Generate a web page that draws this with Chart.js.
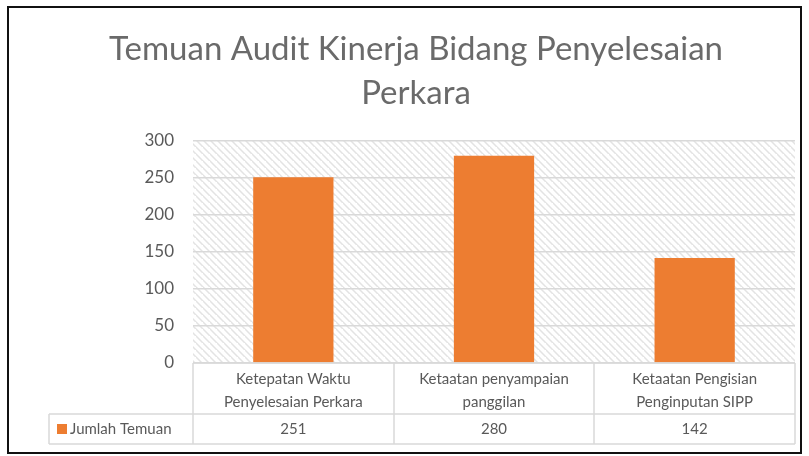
<!DOCTYPE html>
<html>
<head>
<meta charset="utf-8">
<script src="https://cdn.jsdelivr.net/npm/chart.js@4.4.1/dist/chart.umd.min.js"></script>
<style>
  html, body { margin: 0; padding: 0; background: #ffffff; }
  #wrap { width: 809px; height: 456px; position: relative; }
</style>
</head>
<body>
<div id="wrap"><canvas id="c" width="809" height="456"></canvas></div>
<script>
const titleLines = ["Temuan Audit Kinerja Bidang Penyelesaian", "Perkara"];
const categories = [
  ["Ketepatan Waktu", "Penyelesaian Perkara"],
  ["Ketaatan penyampaian", "panggilan"],
  ["Ketaatan Pengisian", "Penginputan SIPP"]
];
const seriesName = "Jumlah Temuan";
const seriesValues = [251, 280, 142];
const yMin = 0, yMax = 300, yStep = 50;

const FONT = "Lato, 'Open Sans', sans-serif";
const TEXT = "#595959";
const GRID = "#d9d9d9";
const BAR = "#ED7D31";

function makePattern() {
  const t = document.createElement("canvas");
  const s = 7;
  t.width = s; t.height = s;
  const g = t.getContext("2d");
  g.fillStyle = "#ffffff";
  g.fillRect(0, 0, s, s);
  g.strokeStyle = "#e3e3e3";
  g.lineWidth = 1.5;
  g.beginPath();
  g.moveTo(-1, -1); g.lineTo(s + 1, s + 1);
  g.moveTo(-s - 1, -1); g.lineTo(1, s + 1);
  g.moveTo(s - 1, -s - 1); g.lineTo(2 * s + 1, s + 1);
  g.stroke();
  return g.createPattern(t, "repeat");
}

const backPlugin = {
  id: "back",
  beforeDraw(chart) {
    const { ctx, chartArea: a } = chart;
    ctx.save();
    ctx.fillStyle = makePattern();
    ctx.fillRect(a.left, a.top, a.right - a.left, a.bottom - a.top);
    ctx.restore();
  }
};

const overlayPlugin = {
  id: "overlay",
  afterDraw(chart) {
    const { ctx, chartArea: a } = chart;
    const xs = chart.scales.x;
    const n = categories.length;
    const colW = (a.right - a.left) / n;
    const rowTop = a.bottom;
    const rowMid = rowTop + 51;
    const rowBot = rowMid + 30;
    const legLeft = 49;

    ctx.save();
    ctx.strokeStyle = GRID;
    ctx.lineWidth = 1.5;
    ctx.beginPath();
    ctx.moveTo(a.left, rowTop); ctx.lineTo(a.right, rowTop);
    ctx.moveTo(legLeft, rowMid); ctx.lineTo(a.right, rowMid);
    ctx.moveTo(legLeft, rowBot); ctx.lineTo(a.right, rowBot);
    ctx.moveTo(legLeft, rowMid); ctx.lineTo(legLeft, rowBot);
    for (let i = 0; i <= n; i++) {
      const x = i === n ? a.right : (i === 0 ? a.left : Math.round(xs.getPixelForValue(i) - colW / 2));
      ctx.moveTo(x, rowTop);
      ctx.lineTo(x, rowBot);
    }
    ctx.stroke();

    ctx.fillStyle = TEXT;
    ctx.font = "15px " + FONT;
    ctx.textAlign = "center";
    ctx.textBaseline = "middle";
    categories.forEach((lines, i) => {
      const cx = xs.getPixelForValue(i);
      lines.forEach((ln, j) => {
        ctx.fillText(ln, cx, rowTop + 16 + j * 23);
      });
      ctx.fillText(String(seriesValues[i]), cx, rowMid + 15.5);
    });

    ctx.fillStyle = BAR;
    ctx.fillRect(57, rowMid + 10, 10, 10);
    ctx.fillStyle = TEXT;
    ctx.textAlign = "left";
    ctx.fillText(seriesName, 70, rowMid + 15.5);

    ctx.font = "33px " + FONT;
    ctx.textAlign = "center";
    ctx.textBaseline = "alphabetic";
    ctx.fillStyle = "#6a6a6a";
    ctx.fillText(titleLines[0], 416, 60);
    ctx.fillText(titleLines[1], 416, 104);

    ctx.strokeStyle = "#111111";
    ctx.lineWidth = 2;
    ctx.strokeRect(8, 7, 793, 446);
    ctx.restore();
  }
};

new Chart(document.getElementById("c"), {
  type: "bar",
  data: {
    labels: categories,
    datasets: [{
      label: seriesName,
      data: seriesValues,
      backgroundColor: BAR,
      borderWidth: 0,
      barPercentage: 0.4,
      categoryPercentage: 1.0
    }]
  },
  options: {
    responsive: false,
    animation: false,
    layout: { padding: { left: 0, top: 141, right: 14, bottom: 93 } },
    plugins: { legend: { display: false }, title: { display: false }, tooltip: { enabled: false } },
    scales: {
      x: { display: false },
      y: {
        min: yMin, max: yMax,
        afterFit(scale) { scale.width = 193; },
        border: { display: false },
        grid: { color: GRID, lineWidth: 1.5, drawTicks: false },
        ticks: {
          stepSize: yStep,
          padding: 19,
          color: TEXT,
          font: { family: FONT, size: 17 }
        }
      }
    }
  },
  plugins: [backPlugin, overlayPlugin]
});
</script>
</body>
</html>
